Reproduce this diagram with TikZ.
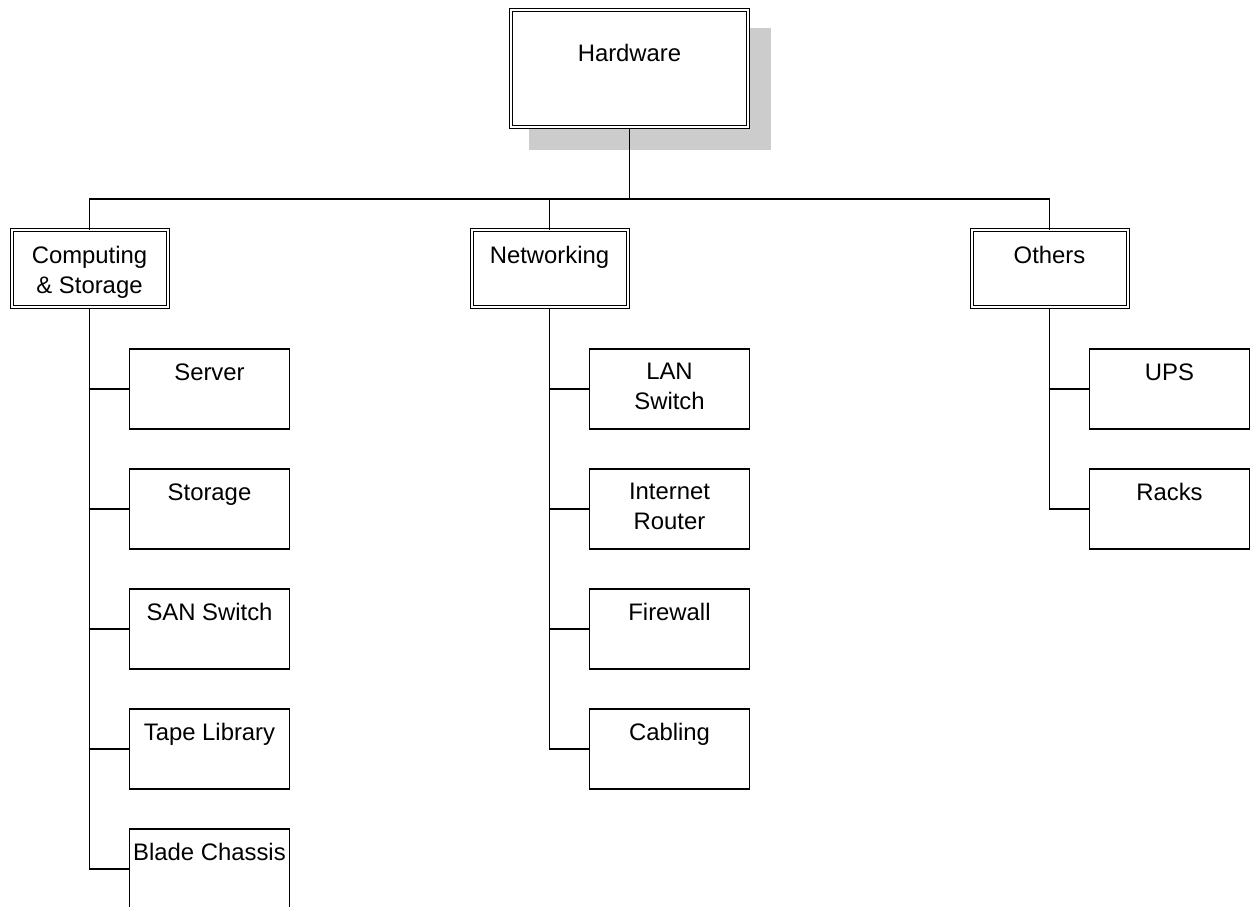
\documentclass[tikz,border=0pt]{standalone}
\usepackage{fontspec}
\setmainfont{Liberation Sans}
\usetikzlibrary{backgrounds}
\begin{document}
\begin{tikzpicture}[x=0.75pt,y=-0.75pt,
  lbl/.style={font=\fontsize{17.9}{22.8}\selectfont, align=center, inner sep=0pt},
  rootbox/.style={draw, fill=white, double, double distance=1.5pt, line width=0.75pt,
    minimum width=177.75pt, minimum height=87.75pt, inner sep=0pt},
  catbox/.style={draw, fill=white, double, double distance=1.5pt, line width=0.75pt,
    minimum width=117pt, minimum height=57.75pt, inner sep=0pt},
  leafbox/.style={draw, line width=0.85pt, minimum width=120pt, minimum height=60pt, inner sep=0pt},
  conn/.style={draw, line width=1pt},
  shade/.style={fill=black!20}
]
\useasboundingbox (0,0) rectangle (1250,907);
\clip (0,0) rectangle (1250,907);

% root
\node[rootbox] (hw) at (629.5,68.5) {};
\node[lbl, below=26pt] at (hw.north) {Hardware};
\begin{scope}[on background layer]
  \fill[shade] ([shift={(18,18)}]hw.north west) rectangle ([shift={(22.5,22)}]hw.south east);
\end{scope}

% categories
\node[catbox] (cs) at (89.5,268.5) {};
\node[lbl, below=12pt] at (cs.north) {Computing\\\& Storage};
\node[catbox] (net) at (549.5,268.5) {};
\node[lbl, below=12pt] at (net.north) {Networking};
\node[catbox] (oth) at (1049.5,268.5) {};
\node[lbl, below=12pt] at (oth.north) {Others};

% leaves: computing & storage
\node[leafbox] (server) at (209.5,389) {};
\node[lbl, below=11pt] at (server.north) {Server};
\node[leafbox] (storage) at (209.5,509) {};
\node[lbl, below=11pt] at (storage.north) {Storage};
\node[leafbox] (san) at (209.5,629) {};
\node[lbl, below=11pt] at (san.north) {SAN Switch};
\node[leafbox] (tape) at (209.5,749) {};
\node[lbl, below=11pt] at (tape.north) {Tape Library};
\node[leafbox] (blade) at (209.5,869) {};
\node[lbl, below=11pt] at (blade.north) {Blade Chassis};

% leaves: networking
\node[leafbox] (lan) at (669.5,389) {};
\node[lbl, below=10.5pt] at (lan.north) {LAN\\Switch};
\node[leafbox] (router) at (669.5,509) {};
\node[lbl, below=10.5pt] at (router.north) {Internet\\Router};
\node[leafbox] (fw) at (669.5,629) {};
\node[lbl, below=11pt] at (fw.north) {Firewall};
\node[leafbox] (cab) at (669.5,749) {};
\node[lbl, below=11pt] at (cab.north) {Cabling};

% leaves: others
\node[leafbox] (ups) at (1169.5,389) {};
\node[lbl, below=11pt] at (ups.north) {UPS};
\node[leafbox] (racks) at (1169.5,509) {};
\node[lbl, below=11pt] at (racks.north) {Racks};

% connectors
\coordinate (bus) at (90,199);
\draw[conn] (hw.south) -- (hw.south |- bus);
\draw[conn] (cs.north) -- (cs.north |- bus) -| (oth.north);
\draw[conn] (net.north) -- (net.north |- bus);

\draw[conn] (cs.south) |- (blade.west);
\draw[conn] (cs.south |- server.west) -- (server.west);
\draw[conn] (cs.south |- storage.west) -- (storage.west);
\draw[conn] (cs.south |- san.west) -- (san.west);
\draw[conn] (cs.south |- tape.west) -- (tape.west);

\draw[conn] (net.south) |- (cab.west);
\draw[conn] (net.south |- lan.west) -- (lan.west);
\draw[conn] (net.south |- router.west) -- (router.west);
\draw[conn] (net.south |- fw.west) -- (fw.west);

\draw[conn] (oth.south) |- (racks.west);
\draw[conn] (oth.south |- ups.west) -- (ups.west);
\end{tikzpicture}
\end{document}
